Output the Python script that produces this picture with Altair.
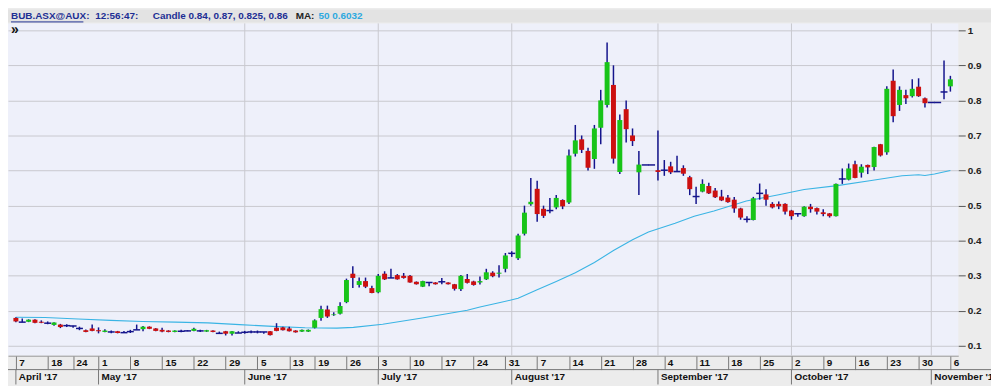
import altair as alt
import pandas as pd

# ---- daily candles, one per trading day (index 0 = 7 Apr 2017 ... 147 = 6 Nov 2017)
# (open, high, low, close)
ohlc = [
    (0.180, 0.182, 0.168, 0.170), (0.168, 0.178, 0.168, 0.168), (0.169, 0.176, 0.168, 0.175),
    (0.175, 0.176, 0.165, 0.166), (0.169, 0.173, 0.165, 0.166), (0.165, 0.170, 0.162, 0.165),
    (0.160, 0.168, 0.158, 0.167), (0.161, 0.163, 0.151, 0.154), (0.158, 0.162, 0.154, 0.158),
    (0.157, 0.158, 0.152, 0.157), (0.150, 0.155, 0.145, 0.150), (0.145, 0.147, 0.139, 0.140),
    (0.150, 0.161, 0.142, 0.143), (0.145, 0.153, 0.136, 0.142), (0.140, 0.148, 0.139, 0.144),
    (0.140, 0.144, 0.136, 0.140), (0.142, 0.143, 0.136, 0.137), (0.138, 0.143, 0.138, 0.138),
    (0.141, 0.146, 0.137, 0.141), (0.146, 0.161, 0.146, 0.146), (0.148, 0.157, 0.142, 0.155),
    (0.155, 0.156, 0.148, 0.149), (0.150, 0.151, 0.142, 0.143), (0.146, 0.152, 0.139, 0.141),
    (0.144, 0.145, 0.139, 0.140), (0.140, 0.145, 0.139, 0.144), (0.142, 0.146, 0.139, 0.142),
    (0.143, 0.145, 0.142, 0.143), (0.143, 0.152, 0.142, 0.149), (0.143, 0.146, 0.140, 0.143),
    (0.141, 0.146, 0.140, 0.145), (0.144, 0.145, 0.139, 0.140), (0.136, 0.141, 0.136, 0.136),
    (0.142, 0.143, 0.130, 0.135), (0.135, 0.143, 0.130, 0.142), (0.137, 0.142, 0.137, 0.137),
    (0.139, 0.143, 0.135, 0.139), (0.140, 0.144, 0.136, 0.140), (0.140, 0.144, 0.136, 0.140),
    (0.140, 0.140, 0.135, 0.140), (0.142, 0.143, 0.130, 0.131), (0.152, 0.165, 0.142, 0.143),
    (0.153, 0.155, 0.144, 0.145), (0.150, 0.155, 0.141, 0.142), (0.144, 0.145, 0.138, 0.139),
    (0.141, 0.147, 0.140, 0.146), (0.141, 0.147, 0.140, 0.146), (0.152, 0.176, 0.150, 0.173),
    (0.180, 0.215, 0.172, 0.205), (0.204, 0.215, 0.180, 0.184), (0.188, 0.196, 0.186, 0.190),
    (0.192, 0.225, 0.190, 0.214), (0.225, 0.292, 0.222, 0.288), (0.306, 0.327, 0.265, 0.294),
    (0.274, 0.295, 0.267, 0.285), (0.285, 0.295, 0.265, 0.269), (0.265, 0.272, 0.250, 0.251),
    (0.253, 0.305, 0.250, 0.300), (0.306, 0.313, 0.288, 0.290), (0.294, 0.320, 0.294, 0.294),
    (0.302, 0.305, 0.289, 0.290), (0.300, 0.308, 0.292, 0.294), (0.300, 0.302, 0.280, 0.281),
    (0.283, 0.284, 0.275, 0.276), (0.269, 0.286, 0.268, 0.285), (0.281, 0.282, 0.270, 0.281),
    (0.281, 0.282, 0.275, 0.276), (0.283, 0.294, 0.276, 0.283), (0.281, 0.282, 0.275, 0.276),
    (0.276, 0.277, 0.258, 0.263), (0.262, 0.302, 0.257, 0.300), (0.291, 0.305, 0.278, 0.280),
    (0.284, 0.286, 0.272, 0.274), (0.281, 0.298, 0.275, 0.285), (0.290, 0.320, 0.288, 0.310),
    (0.309, 0.313, 0.296, 0.299), (0.306, 0.330, 0.295, 0.309), (0.320, 0.365, 0.310, 0.358),
    (0.364, 0.370, 0.354, 0.364), (0.350, 0.420, 0.345, 0.415), (0.420, 0.500, 0.415, 0.480),
    (0.504, 0.579, 0.500, 0.511), (0.548, 0.571, 0.454, 0.476), (0.491, 0.500, 0.465, 0.471),
    (0.486, 0.522, 0.478, 0.486), (0.495, 0.530, 0.490, 0.522), (0.516, 0.518, 0.490, 0.498),
    (0.509, 0.660, 0.505, 0.643), (0.648, 0.730, 0.640, 0.686), (0.689, 0.700, 0.650, 0.659),
    (0.656, 0.665, 0.600, 0.608), (0.633, 0.730, 0.605, 0.720), (0.722, 0.830, 0.675, 0.800),
    (0.787, 0.965, 0.780, 0.909), (0.844, 0.900, 0.620, 0.634), (0.596, 0.760, 0.590, 0.744),
    (0.775, 0.800, 0.680, 0.718), (0.700, 0.720, 0.670, 0.684), (0.595, 0.656, 0.530, 0.617),
    (0.616, 0.616, 0.616, 0.616), (0.616, 0.616, 0.616, 0.616), (0.601, 0.714, 0.572, 0.596),
    (0.601, 0.630, 0.585, 0.601), (0.612, 0.625, 0.590, 0.595), (0.597, 0.642, 0.597, 0.597),
    (0.607, 0.615, 0.585, 0.591), (0.581, 0.585, 0.530, 0.547), (0.526, 0.554, 0.505, 0.526),
    (0.540, 0.575, 0.538, 0.562), (0.556, 0.565, 0.533, 0.535), (0.543, 0.550, 0.522, 0.524),
    (0.526, 0.545, 0.513, 0.515), (0.523, 0.530, 0.508, 0.510), (0.517, 0.525, 0.480, 0.492),
    (0.492, 0.494, 0.460, 0.466), (0.461, 0.470, 0.452, 0.461), (0.459, 0.525, 0.458, 0.521),
    (0.535, 0.563, 0.517, 0.535), (0.532, 0.547, 0.500, 0.517), (0.505, 0.510, 0.492, 0.495),
    (0.505, 0.512, 0.490, 0.498), (0.505, 0.507, 0.475, 0.483), (0.486, 0.488, 0.460, 0.470),
    (0.477, 0.477, 0.468, 0.477), (0.470, 0.498, 0.468, 0.497), (0.497, 0.505, 0.480, 0.490),
    (0.493, 0.495, 0.475, 0.483), (0.481, 0.490, 0.470, 0.476), (0.478, 0.479, 0.466, 0.470),
    (0.470, 0.563, 0.469, 0.562), (0.576, 0.606, 0.562, 0.576), (0.574, 0.620, 0.572, 0.606),
    (0.618, 0.628, 0.578, 0.579), (0.594, 0.618, 0.580, 0.611), (0.616, 0.617, 0.590, 0.609),
    (0.610, 0.668, 0.600, 0.667), (0.675, 0.676, 0.640, 0.643), (0.652, 0.840, 0.645, 0.833),
    (0.856, 0.888, 0.738, 0.755), (0.787, 0.840, 0.770, 0.830), (0.815, 0.830, 0.790, 0.806),
    (0.812, 0.860, 0.808, 0.833), (0.839, 0.863, 0.810, 0.812), (0.806, 0.808, 0.780, 0.792),
    (0.794, 0.794, 0.794, 0.794), (0.794, 0.794, 0.794, 0.794), (0.824, 0.914, 0.803, 0.824),
    (0.840, 0.870, 0.825, 0.860),
]

# 50-day moving average at a few positions
ma_idx = [0, 4.6, 9.8, 14.9, 19.9, 25.1, 30.2, 35.2, 40.4, 45.5, 50.5, 53.1, 57.7, 63.9,
          68.5, 71, 73, 76, 79, 82, 85, 88, 91, 94, 97, 99.5, 103.7, 106.7, 109.8, 114.9,
          120, 124, 129.2, 134.3, 139.4, 142, 143, 144.5, 147]
ma_val = [0.182, 0.181, 0.177, 0.173, 0.170, 0.168, 0.166, 0.161, 0.156, 0.152, 0.151, 0.153,
          0.162, 0.180, 0.194, 0.202, 0.211, 0.223, 0.236, 0.260, 0.284, 0.309, 0.338, 0.372,
          0.403, 0.425, 0.450, 0.470, 0.485, 0.513, 0.531, 0.546, 0.557, 0.571, 0.585, 0.588,
          0.586, 0.590, 0.600]

# axis labels
tick_idx = [0, 5, 9, 13, 18, 23, 28, 33, 38, 43, 47, 52, 57, 62, 67, 72, 77, 82, 87, 92, 97,
            102, 107, 112, 117, 122, 127, 132, 137, 142, 147]
tick_labels = ['7', '18', '24', '1', '8', '15', '22', '29', '5', '13', '19', '26', '3', '10',
               '17', '24', '31', '7', '14', '21', '28', '4', '11', '18', '25', '2', '9', '16',
               '23', '30', '6']
month_idx = [0, 13, 36, 57, 78, 101, 122, 144]
month_labels = ["April '17", "May '17", "June '17", "July '17", "August '17",
                "September '17", "October '17", "November '17"]
grid_month_idx = [36, 57, 78, 101, 122, 144]
y_ticks = [0.1, 0.2, 0.3, 0.4, 0.5, 0.6, 0.7, 0.8, 0.9, 1.0]

W, H = 958, 335
FONT = "Liberation Sans"

df = pd.DataFrame(ohlc, columns=["open", "high", "low", "close"])
df["idx"] = range(len(df))
df["dir"] = ["up" if c > o else ("down" if c < o else "flat") for o, c in zip(df.open, df.close)]

xscale = alt.Scale(domain=[-0.46, 147.46], nice=False, zero=False)
yscale = alt.Scale(domain=[0.0723, 1.0194], nice=False, zero=False)

label_expr = "[" + ",".join("'%s'" % s for s in tick_labels) + "][indexof([" + \
    ",".join(str(v) for v in tick_idx) + "], datum.value)]"

xaxis = alt.Axis(values=tick_idx, labelExpr=label_expr, orient="bottom", grid=False,
                 tickSize=14, tickColor="#777", tickWidth=1, labelAlign="left",
                 labelBaseline="top", labelPadding=-12, labelOffset=3, labelFont=FONT,
                 labelFontWeight="bold", labelFontSize=10, labelColor="#111",
                 labelOverlap=False, labelFlush=False, labelBound=False,
                 domain=True, domainColor="#999", title=None)
yaxis = alt.Axis(orient="right", values=y_ticks, format=".1~f", grid=True,
                 gridColor="#c8c8ce", gridWidth=1, tickSize=7, tickColor="#555",
                 labelPadding=2, labelFont=FONT, labelFontWeight="bold", labelFontSize=10,
                 labelColor="#222", domain=False, title=None, labelFlush=False,
                 labelOverlap=False)


def X(field):
    return alt.X(field, type="quantitative", scale=xscale, axis=xaxis)


def Y(field):
    return alt.Y(field, type="quantitative", scale=yscale, axis=yaxis)


base = alt.Chart(df)

grid_df = pd.DataFrame({"m": grid_month_idx})
month_grid = alt.Chart(grid_df).mark_rule(color="#c8c8ce", strokeWidth=1).encode(
    x=X("m"), y=alt.value(0), y2=alt.value(H))

ma_df = pd.DataFrame({"idx": ma_idx, "ma": ma_val})
ma_line = alt.Chart(ma_df).mark_line(color="#3ab4e4", strokeWidth=1.1).encode(
    x=X("idx"), y=Y("ma"))

wicks = base.mark_rule(color="#14148c", strokeWidth=1.5).encode(
    x=X("idx"), y=Y("low"), y2="high")

bodies = base.transform_filter(alt.datum.dir != "flat").mark_bar(size=5).encode(
    x=X("idx"), y=Y("open"), y2="close",
    color=alt.Color("dir:N", scale=alt.Scale(domain=["up", "down"],
                                               range=["#18c418", "#cc1010"]), legend=None))

dojis = base.transform_filter(alt.datum.dir == "flat").mark_rule(
    color="#14148c", strokeWidth=1.5, xOffset=-3.5, x2Offset=3.5).encode(
    x=X("idx"), x2="idx", y=Y("close"))

# header
header_bg = alt.Chart(pd.DataFrame({"a": [0]})).mark_rect(color="#e3e3e3").encode(
    x=alt.value(0), x2=alt.value(W + 33), y=alt.value(-14), y2=alt.value(-1))

header_parts = [
    ("BUB.ASX@AUX:", 3, "#1d2f94"),
    ("12:56:47:", 88, "#1d2f94"),
    ("Candle 0.84, 0.87, 0.825, 0.86", 146, "#1d2f94"),
    ("MA:", 290, "#222222"),
    ("50 0.6032", 313, "#2ea9df"),
]
header_texts = [
    alt.Chart(pd.DataFrame({"t": [t]})).mark_text(
        align="left", baseline="middle", font=FONT, fontWeight="bold", fontSize=10,
        color=col).encode(x=alt.value(xp), y=alt.value(-7), text="t:N")
    for t, xp, col in header_parts
]
underline = alt.Chart(pd.DataFrame({"a": [0]})).mark_rule(color="#1d2f94", strokeWidth=1).encode(
    x=alt.value(3), x2=alt.value(76), y=alt.value(-1.5))
chevron = alt.Chart(pd.DataFrame({"t": ["»"]})).mark_text(
    align="left", baseline="middle", font=FONT, fontWeight="bold", fontSize=14,
    color="#111").encode(x=alt.value(3), y=alt.value(7), text="t:N")

# month row
row_line = alt.Chart(pd.DataFrame({"a": [0]})).mark_rule(color="#777", strokeWidth=1).encode(
    x=alt.value(0), x2=alt.value(W + 33), y=alt.value(H + 14))
mdf = pd.DataFrame({"m": month_idx, "label": month_labels})
month_sep = alt.Chart(mdf).mark_rule(color="#777", strokeWidth=1).encode(
    x=X("m"), y=alt.value(H + 14), y2=alt.value(H + 29))
month_text = alt.Chart(mdf).mark_text(
    align="left", baseline="top", dx=3, font=FONT, fontWeight="bold", fontSize=10,
    color="#111").encode(x=X("m"), y=alt.value(H + 16), text="label:N")

chart = alt.layer(
    month_grid, ma_line, wicks, bodies, dojis, header_bg, *header_texts, underline, chevron,
    row_line, month_sep, month_text
).properties(
    width=W, height=H,
    padding={"left": 0, "top": 14, "right": 33, "bottom": 29},
    autosize=alt.AutoSizeParams(type="none"),
).configure(background="#ececec").configure_view(fill="#eef0fa", stroke=None)

chart.save("out.html", embed_options={"renderer": "svg", "actions": False})
